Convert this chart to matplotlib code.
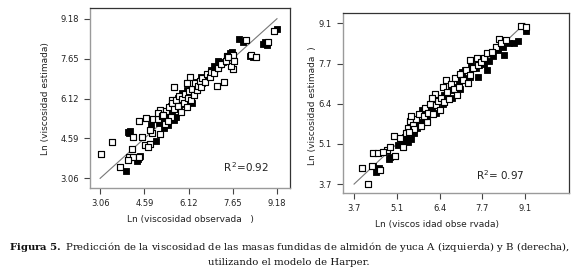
import matplotlib
matplotlib.use("Agg")
import matplotlib.pyplot as plt

plt.rcParams["mathtext.fontset"] = "dejavuserif"

# ---- Left panel (almidón A) ----
a_open_x = [3.09,3.48,3.75,4.16,4.07,4.21,4.42,4.04,4.21,4.50,4.62,4.79,4.65,4.85,5.14,4.90,5.08,5.14,4.39,5.54,6.17,7.33,7.44,7.67,7.65,7.60,8.10,8.28,8.44,8.86,9.06,4.73,4.80,
            5.05,5.20,5.30,5.35,5.45,5.50,5.55,5.60,5.62,5.70,5.75,5.80,5.85,5.90,5.95,6.00,6.05,6.10,6.15,6.20,6.25,6.30,6.35,6.40,6.45,6.50,6.55,6.60,6.70,6.75,6.85,6.90,7.00,7.10,7.15,7.25,7.40,7.50,7.70,6.05,5.40,5.25]
a_open_y = [3.99,4.44,3.50,4.17,3.89,3.89,3.89,3.76,4.65,4.63,4.34,4.36,5.36,4.78,4.75,5.32,5.32,5.68,5.25,6.06,6.95,6.76,7.76,7.79,7.24,7.36,8.36,7.78,7.72,8.30,8.71,4.25,4.90,
            5.55,5.45,5.15,5.65,5.80,5.40,5.95,6.55,5.70,6.05,5.85,6.20,5.60,6.10,5.95,6.30,5.80,6.15,6.40,6.05,6.50,6.25,6.70,6.45,6.60,6.80,6.55,6.90,6.75,7.05,6.95,7.15,7.10,6.60,7.28,7.45,7.55,7.70,7.55,6.70,5.25,5.50]
a_fill_x = [3.96,4.01,4.10,4.06,4.33,4.44,4.38,4.82,4.98,5.27,5.10,5.20,5.35,5.40,5.45,5.50,5.55,5.60,5.65,5.70,5.75,5.80,5.85,5.90,5.95,6.00,6.05,6.10,6.15,6.20,6.30,6.35,6.40,6.50,6.55,6.60,6.70,6.80,6.90,7.00,7.04,7.15,7.32,7.45,7.62,7.55,7.85,8.02,8.71,8.83,8.36,9.17,8.78,8.25,5.70,6.25]
a_fill_y = [3.34,4.82,4.88,4.78,3.73,3.93,3.80,5.10,4.50,4.98,5.20,5.35,5.50,5.10,5.60,5.85,5.55,5.30,5.75,5.95,6.15,5.70,6.00,6.35,6.20,5.90,6.45,6.10,6.25,6.50,6.35,6.55,6.75,6.60,6.95,6.70,6.90,7.05,7.20,7.35,7.34,7.55,7.53,7.70,7.91,7.85,8.42,8.30,8.23,8.17,7.72,8.77,8.28,7.75,5.40,5.95]

# ---- Right panel (almidón B) ----
b_open_x = [4.13,3.96,4.26,4.52,4.31,4.45,4.73,4.62,5.00,4.97,5.26,5.47,5.40,5.55,5.99,6.26,6.62,7.36,7.57,8.27,8.20,8.97,9.12,
            5.15,5.35,5.60,5.65,5.75,5.80,5.90,5.95,6.05,6.10,6.20,6.30,6.35,6.45,6.50,6.55,6.65,6.70,6.75,6.85,6.90,7.00,7.05,7.15,7.25,7.30,7.45,7.60,7.70,7.80,7.90,8.05,8.35,8.50,6.15,5.50,5.45,4.85,6.40,7.35,6.95]
b_open_y = [3.70,4.25,4.30,4.17,4.75,4.75,4.84,4.78,4.65,5.31,4.95,5.82,5.60,5.70,5.79,6.74,7.19,7.88,7.92,8.56,8.31,9.01,8.98,
            5.25,5.40,5.55,5.90,6.05,5.65,6.00,6.25,6.10,6.40,6.05,6.35,6.50,6.60,6.95,6.45,6.80,6.55,7.05,6.90,7.25,6.95,7.40,7.20,7.55,7.10,7.60,7.70,7.80,7.95,8.10,8.15,8.45,8.55,6.60,6.00,5.45,4.95,6.20,7.35,6.70]
b_fill_x = [4.39,4.42,4.30,4.84,4.80,5.20,5.31,5.40,5.50,5.60,5.70,5.84,5.75,5.90,6.00,6.05,6.15,6.25,6.30,6.40,6.50,6.55,6.65,6.75,6.80,6.90,7.00,7.05,7.10,7.20,7.25,7.35,7.40,7.55,7.65,7.80,7.89,7.95,8.10,8.25,8.44,8.40,8.48,8.60,8.88,9.12,8.75,4.50,5.10,7.60]
b_fill_y = [4.11,4.20,4.30,4.62,4.55,5.15,5.29,5.10,5.20,5.40,5.60,6.18,5.80,5.85,6.00,6.25,6.15,6.35,6.10,6.50,6.40,6.70,6.65,6.85,6.60,6.95,7.15,6.90,7.45,7.53,7.25,7.30,7.70,7.60,7.70,7.75,7.53,7.85,8.00,8.20,8.05,8.30,8.55,8.45,8.50,8.83,8.45,4.25,5.00,7.30]

a_ticks = [3.06, 4.59, 6.12, 7.65, 9.18]
a_ticklabels = ["3.06", "4.59", "6.12", "7.65", "9.18"]
b_ticks = [3.7, 5.05, 6.4, 7.75, 9.1]
b_ticklabels = ["3.7", "5.1", "6.4", "7.7", "9.1"]
a_r2 = r"$\mathregular{R^{\,2}}$=0.92"
b_r2 = r"$\mathregular{R^{2}}$= 0.97"

fig = plt.figure(figsize=(5.78, 2.77), dpi=100)
fig.patch.set_facecolor("white")

def style(ax, ticks, labels, xlim, ylim):
    ax.set_xlim(*xlim)
    ax.set_ylim(*ylim)
    ax.set_xticks(ticks)
    ax.set_xticklabels(labels)
    ax.set_yticks(ticks)
    ax.set_yticklabels(labels)
    for s in ("left", "bottom"):
        ax.spines[s].set_color("#9a9a9a")
        ax.spines[s].set_linewidth(1.0)
    for s in ("top", "right"):
        ax.spines[s].set_color("#333333")
        ax.spines[s].set_linewidth(0.9)
    ax.tick_params(direction="out", length=4, width=0.8, color="#444444",
                   labelsize=6, labelcolor="#222222", pad=4)

def draw(ax, ox, oy, fx, fy, lo, hi):
    ax.plot([lo, hi], [lo, hi], color="#777777", lw=0.8, zorder=1)
    ax.scatter(fx, fy, marker="s", s=15, facecolor="black", edgecolor="black",
               linewidths=0.6, zorder=2)
    ax.scatter(ox, oy, marker="s", s=15, facecolor="white", edgecolor="black",
               linewidths=0.85, zorder=3)

ax1 = fig.add_axes([0.1557, 0.3213, 0.346, 0.6516])
draw(ax1, a_open_x, a_open_y, a_fill_x, a_fill_y, 3.06, 9.18)
style(ax1, a_ticks, a_ticklabels, (2.71, 9.63), (2.69, 9.61))
ax1.text(0.665, 0.09, a_r2, transform=ax1.transAxes, fontsize=7.5, color="#222222")

ax2 = fig.add_axes([0.5934, 0.3043, 0.391, 0.650])
draw(ax2, b_open_x, b_open_y, b_fill_x, b_fill_y, 3.7, 9.1)
style(ax2, b_ticks, b_ticklabels, (3.35, 10.49), (3.41, 9.46))
ax2.text(0.59, 0.07, b_r2, transform=ax2.transAxes, fontsize=7.5, color="#222222")

fig.text(0.33, 0.206, "Ln (viscosidad observada   )", ha="center", va="center",
         fontsize=6.5, color="#222222")
fig.text(0.078, 0.645, "Ln (viscosidad estimada)", ha="center", va="center",
         rotation=90, fontsize=6.5, color="#222222")
fig.text(0.756, 0.188, "Ln (viscos idad obse rvada)", ha="center", va="center",
         fontsize=6.5, color="#222222")
fig.text(0.54, 0.62, "Ln (viscosidad estimada  )", ha="center", va="center",
         rotation=90, fontsize=6.5, color="#222222")

fig.text(0.5, 0.108,
         r"$\bf{Figura\ 5.}$ Predicción de la viscosidad de las masas fundidas de almidón de yuca A (izquierda) y B (derecha),",
         ha="center", va="center", fontsize=7.3, family="DejaVu Serif", color="#111111")
fig.text(0.5, 0.054, "utilizando el modelo de Harper.", ha="center", va="center",
         fontsize=7.3, family="DejaVu Serif", color="#111111")

fig.savefig("out.png", dpi=100, facecolor="white")
